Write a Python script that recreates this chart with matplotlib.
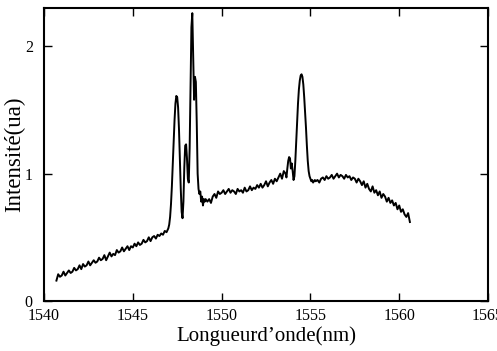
import numpy as np
import matplotlib
matplotlib.use("Agg")
import matplotlib.pyplot as plt

plt.rcParams['font.family'] = ['Liberation Serif', 'DejaVu Serif']

# spectre : segments a pas regulier
# bruit de fond montant (1540.7 -> 1546.9, pas 0.1)
wl_a = np.round(np.arange(1540.7, 1546.95, 0.1), 2)
int_a = [0.16, 0.21, 0.19, 0.20, 0.23, 0.20, 0.22, 0.24, 0.22, 0.23,
         0.26, 0.24, 0.25, 0.28, 0.25, 0.29, 0.27, 0.28, 0.31, 0.28,
         0.30, 0.32, 0.30, 0.31, 0.34, 0.32, 0.33, 0.36, 0.32, 0.35,
         0.38, 0.35, 0.37, 0.36, 0.40, 0.38, 0.39, 0.42, 0.39, 0.41,
         0.43, 0.40, 0.43, 0.42, 0.45, 0.43, 0.46, 0.44, 0.45, 0.48,
         0.46, 0.47, 0.50, 0.47, 0.50, 0.51, 0.49, 0.52, 0.51, 0.53,
         0.52, 0.55, 0.54]

# groupe de raies 1547-1549 (pas 0.05)
wl_b = np.round(np.arange(1547.0, 1549.17, 0.05), 2)
int_b = [0.57, 0.60, 0.66, 0.76, 0.90, 1.07, 1.25, 1.42, 1.55, 1.61,
         1.60, 1.52, 1.35, 1.12, 0.88, 0.70, 0.65, 0.78, 1.05, 1.22,
         1.23, 1.12, 0.96, 0.93, 1.20, 1.70, 2.15, 2.26, 1.90, 1.58,
         1.76, 1.72, 1.40, 1.00, 0.88, 0.84, 0.86, 0.78, 0.82, 0.75,
         0.80, 0.78, 0.80, 0.79]

# plateau 1549.2 -> 1553.5 (pas 0.1)
wl_c = np.round(np.arange(1549.2, 1553.55, 0.1), 2)
int_c = [0.78, 0.80, 0.77, 0.82, 0.84, 0.81, 0.86, 0.84, 0.85, 0.87,
         0.84, 0.86, 0.88, 0.85, 0.87, 0.86, 0.84, 0.88, 0.86, 0.87,
         0.85, 0.89, 0.86, 0.87, 0.90, 0.87, 0.89, 0.88, 0.91, 0.89,
         0.92, 0.89, 0.91, 0.94, 0.90, 0.93, 0.95, 0.92, 0.96, 0.94,
         0.97, 1.00, 0.96, 1.02]

# raie vers 1554.5 (pas 0.05)
wl_d = np.round(np.arange(1553.6, 1555.27, 0.05), 2)
int_d = [1.00, 0.97, 1.04, 1.10, 1.13, 1.12, 1.04, 1.08, 1.02, 0.95,
         0.98, 1.10, 1.25, 1.40, 1.55, 1.66, 1.73, 1.77, 1.78, 1.76,
         1.70, 1.60, 1.48, 1.36, 1.22, 1.10, 1.02, 0.98, 0.96, 0.94,
         0.95, 0.93, 0.94, 0.95]

# retombee 1555.3 -> 1560.6 (pas 0.1)
wl_e = np.round(np.arange(1555.3, 1560.65, 0.1), 2)
int_e = [0.94, 0.95, 0.93, 0.96, 0.97, 0.95, 0.98, 0.96, 0.97, 0.99,
         0.96, 0.98, 1.00, 0.97, 0.99, 0.98, 0.96, 0.99, 0.97, 0.98,
         0.95, 0.97, 0.96, 0.93, 0.96, 0.94, 0.91, 0.94, 0.89, 0.92,
         0.88, 0.86, 0.90, 0.85, 0.87, 0.83, 0.86, 0.81, 0.84, 0.82,
         0.78, 0.81, 0.77, 0.79, 0.75, 0.77, 0.72, 0.75, 0.70, 0.72,
         0.68, 0.66, 0.69, 0.62]

wl = np.concatenate([wl_a, wl_b, wl_c, wl_d, wl_e])
inten = np.concatenate([int_a, int_b, int_c, int_d, int_e])

fig = plt.figure(figsize=(4.97, 3.51), dpi=100)
ax = fig.add_axes([0.0885, 0.1425, 0.8935, 0.8345])
ax.plot(wl, inten, color='black', lw=1.4)

ax.set_xlim(1540, 1565)
ax.set_ylim(0, 2.3)
ax.set_xticks([1540, 1545, 1550, 1555, 1560, 1565])
ax.set_yticks([0, 1, 2])
ax.tick_params(direction='in', length=6, width=1, top=True, right=True,
               labelsize=11.5, colors='black')
ax.tick_params(axis='x', pad=5)
ax.tick_params(axis='y', pad=8)
for s in ax.spines.values():
    s.set_linewidth(1.5)

ax.set_xlabel("Longueurd’onde(nm)", fontsize=15, labelpad=2)
ax.set_ylabel("Intensité(ua)", fontsize=16.5, labelpad=0)

fig.savefig("out.png", dpi=100)
